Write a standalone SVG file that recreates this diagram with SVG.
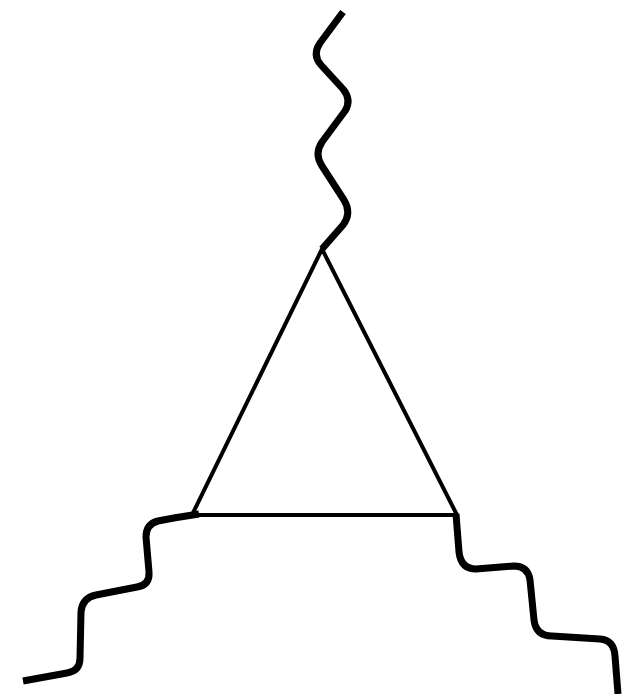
<svg xmlns="http://www.w3.org/2000/svg" width="631" height="694" viewBox="0 0 631 694">
<style>
.bg{fill:#fff}
.prop{fill:none;stroke:#000;stroke-width:4;stroke-linecap:round;stroke-linejoin:round}
.wave{fill:none;stroke:#000;stroke-width:7;stroke-linecap:butt;stroke-linejoin:round}
</style>
<rect class="bg" x="0" y="0" width="631" height="694"/>
<g id="connectors">
<g id="triangle">
<path class="prop" d="M322,249 L192,515"/>
<path class="prop" d="M322,249 L457,515"/>
<path class="prop" d="M192,515 L457,515"/>
</g>
<path id="wave-top" class="wave" d="M343,12 L320,43 Q312,55 321,65 L343,89 Q352,100 345,111 L322,142 Q314,154 322,166 L344,200 Q352,213 343,225 L322,249"/>
<path id="wave-left" class="wave" d="M199,514 Q172,518 158,521 Q146,524 146,537 L149,572 Q150,585 137,587 L96,595 Q82,598 81,612 L80,658 Q80,671 67,673 L23,681"/>
<path id="wave-right" class="wave" d="M456,514 L459,552 Q461,569 476,569 L514,566 Q528,566 530,580 L534,620 Q536,636 552,636 L600,639 Q614,640 615,656 L618,694"/>
</g>
</svg>
